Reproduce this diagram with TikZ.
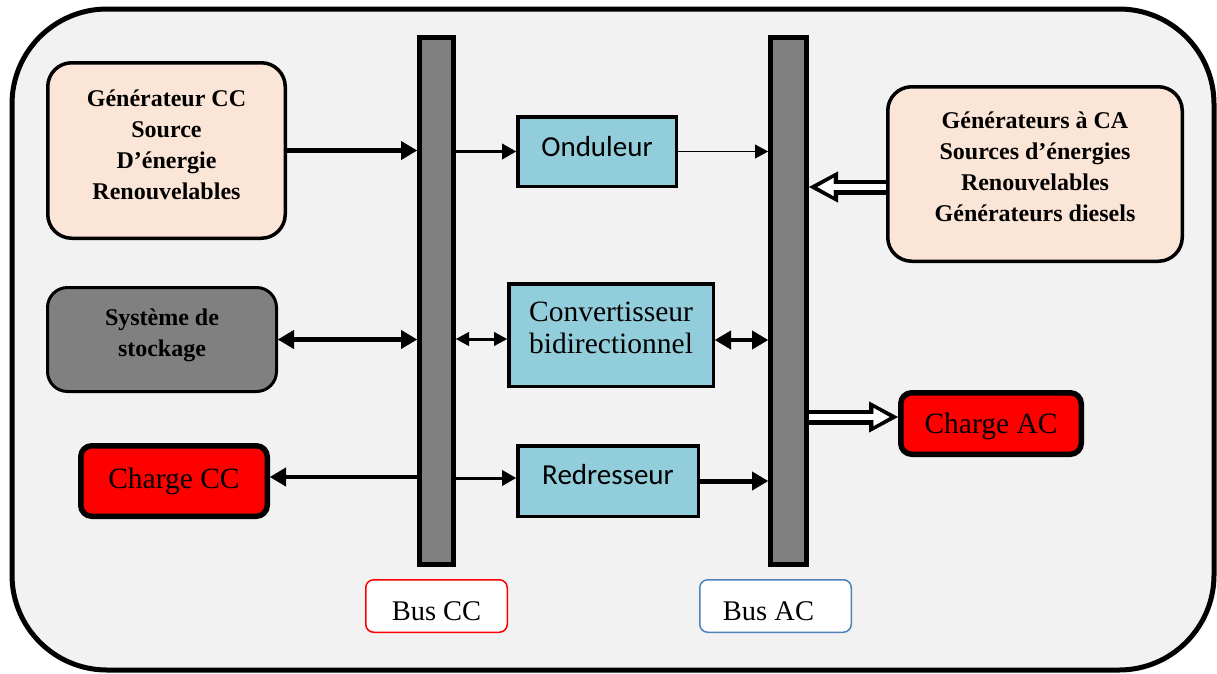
\documentclass[tikz,border=0pt]{standalone}
\usepackage{fontspec}
\setmainfont{Liberation Serif}
\newfontfamily\calibrifont{Carlito}
\usetikzlibrary{arrows.meta}

% raise node text without changing its box
\newcommand\lift[2]{\raisebox{#1}[\height][\depth]{#2}}
\newcommand\stacked[1]{\begin{tabular}{@{}c@{}}#1\end{tabular}}

\definecolor{framebg}{HTML}{F2F2F2}
\definecolor{peach}{HTML}{FBE5D6}
\definecolor{convblue}{HTML}{92CDDC}
\definecolor{busgray}{HTML}{808080}
\definecolor{loadred}{HTML}{FF0000}
\definecolor{acblue}{HTML}{4F81BD}

\tikzset{
  tipL/.tip={Triangle[length=16pt,width=19pt,line width=0.4pt]},
  tipM/.tip={Triangle[length=14pt,width=16pt,line width=0.4pt]},
  tipS/.tip={Triangle[length=13pt,width=14pt,line width=0.4pt]},
  tipHollowOut/.tip={Triangle[length=29pt,width=31pt,line width=0.4pt]},
  tipHollowIn/.tip={Triangle[length=16pt,width=18pt,line width=0.4pt]},
  frame/.style={draw=black, line width=5pt, fill=framebg, rounded corners=95pt},
  srcbox/.style={draw, line width=3.5pt, fill=peach, rounded corners=24pt, inner sep=0pt,
    font=\fontsize{24}{31}\selectfont\bfseries},
  storebox/.style={draw, line width=3pt, fill=busgray, rounded corners=20pt, inner sep=0pt,
    font=\fontsize{24}{31}\selectfont\bfseries},
  loadbox/.style={draw, line width=5.5pt, fill=loadred, rounded corners=11pt, inner sep=0pt,
    font=\fontsize{29.5}{33}\selectfont},
  convbox/.style={draw, line width=3.5pt, fill=convblue, inner sep=0pt},
  busbar/.style={draw, line width=5pt, fill=busgray, inner sep=0pt,
    minimum width=34pt, minimum height=527pt},
  buslabel/.style={draw, line width=1.5pt, fill=white, rounded corners=8pt, inner sep=0pt,
    minimum height=52.5pt, font=\fontsize{28.5}{32}\selectfont},
  heavylink/.style={line width=4.5pt},
  midlink/.style={line width=3pt},
  finelink/.style={line width=1.8pt},
  hollowouter/.style={line width=15pt, -{tipHollowOut}},
  hollowinner/.style={white, line width=6.5pt, -{tipHollowIn}, shorten >=8.5pt},
}

\begin{document}
\begin{tikzpicture}[x=1pt,y=-1pt]
\useasboundingbox (0,0) rectangle (1217,673);
\fill[white] (0,0) rectangle (1217,673);

% outer frame
\draw[frame] (12,9) rectangle (1214,670);

% buses
\node[busbar] (buscc) at (436.5,301) {};
\node[busbar, minimum width=36pt] (busac) at (788.5,301) {};
\node[buslabel, draw=loadred, minimum width=141.5pt] (labcc) at (436.5,606) {\lift{-5pt}{Bus CC}};
\node[buslabel, draw=acblue, minimum width=151.5pt] (labac) at (775.5,606)
  {\lift{-5pt}{Bus AC}\rule{14pt}{0pt}};

% DC side
\node[srcbox, minimum width=237.5pt, minimum height=175.5pt] (gencc) at (166.5,150.5)
  {\lift{4pt}{\stacked{Générateur CC\\Source\\D’énergie\\Renouvelables}}};
\node[storebox, minimum width=229pt, minimum height=104pt] (stock) at (162,339.5)
  {\lift{5pt}{\stacked{Système de\\stockage}}};
\node[loadbox, minimum width=186.5pt, minimum height=70.5pt] (chargecc) at (174,481) {Charge CC};

% converters
\node[convbox, minimum width=158.5pt, minimum height=69.5pt, font=\calibrifont\fontsize{29}{32}\selectfont]
  (ond) at (597,151.5) {\lift{4.5pt}{Onduleur}};
\node[convbox, minimum width=204.5pt, minimum height=102.5pt, font=\fontsize{29.5}{32}\selectfont]
  (conv) at (611,335) {\lift{3.5pt}{\stacked{Convertisseur\\bidirectionnel}}};
\node[convbox, minimum width=180.5pt, minimum height=70.5pt, font=\calibrifont\fontsize{29}{32}\selectfont]
  (redr) at (608,481) {\lift{6pt}{Redresseur}};

% AC side
\node[srcbox, minimum width=294.5pt, minimum height=174.5pt] (genca) at (1035,174)
  {\lift{5pt}{\stacked{Générateurs à CA\\Sources d’énergies\\Renouvelables\\Générateurs diesels}}};
\node[loadbox, minimum width=180.5pt, minimum height=61.5pt] (chargeac) at (991,423.5) {\lift{-3pt}{Charge AC}};

% connection points
\coordinate (caout) at ([yshift=-13pt]genca.west);
\coordinate (acload) at ([yshift=6.5pt]chargeac.west);
\coordinate (convl) at ([yshift=-4pt]conv.west);
\coordinate (convr) at ([yshift=-5pt]conv.east);
\coordinate (ccload) at ([yshift=4pt]chargecc.east);
\coordinate (redrin) at ([yshift=3pt]redr.west);

% DC bus links
\draw[heavylink, -{tipL}] (gencc.east) -- (buscc.west |- gencc.east);
\draw[heavylink, {tipL}-{tipL}] (stock.east) -- (buscc.west |- stock.east);
\draw[heavylink, -{tipL}] (buscc.west |- ccload) -- (ccload);
\draw[midlink, -{tipM}] (buscc.east |- ond.west) -- (ond.west);
\draw[midlink, {tipS}-{tipS}] (buscc.east |- convl) -- (convl);
\draw[midlink, -{tipM}] (buscc.east |- redrin) -- (redrin);

% AC bus links
\draw[finelink, -{tipS}] (ond.east) -- (busac.west |- ond.east);
\draw[heavylink, {tipL}-{tipL}] (convr) -- (busac.west |- convr);
\draw[heavylink, line width=5pt, -{tipL}] (redr.east) -- (busac.west |- redr.east);

% hollow power arrows
\draw[hollowouter] (caout) -- (busac.east |- caout);
\draw[hollowinner] (caout) -- (busac.east |- caout);
\draw[hollowouter] (busac.east |- acload) -- (acload);
\draw[hollowinner] (busac.east |- acload) -- (acload);
\end{tikzpicture}
\end{document}
